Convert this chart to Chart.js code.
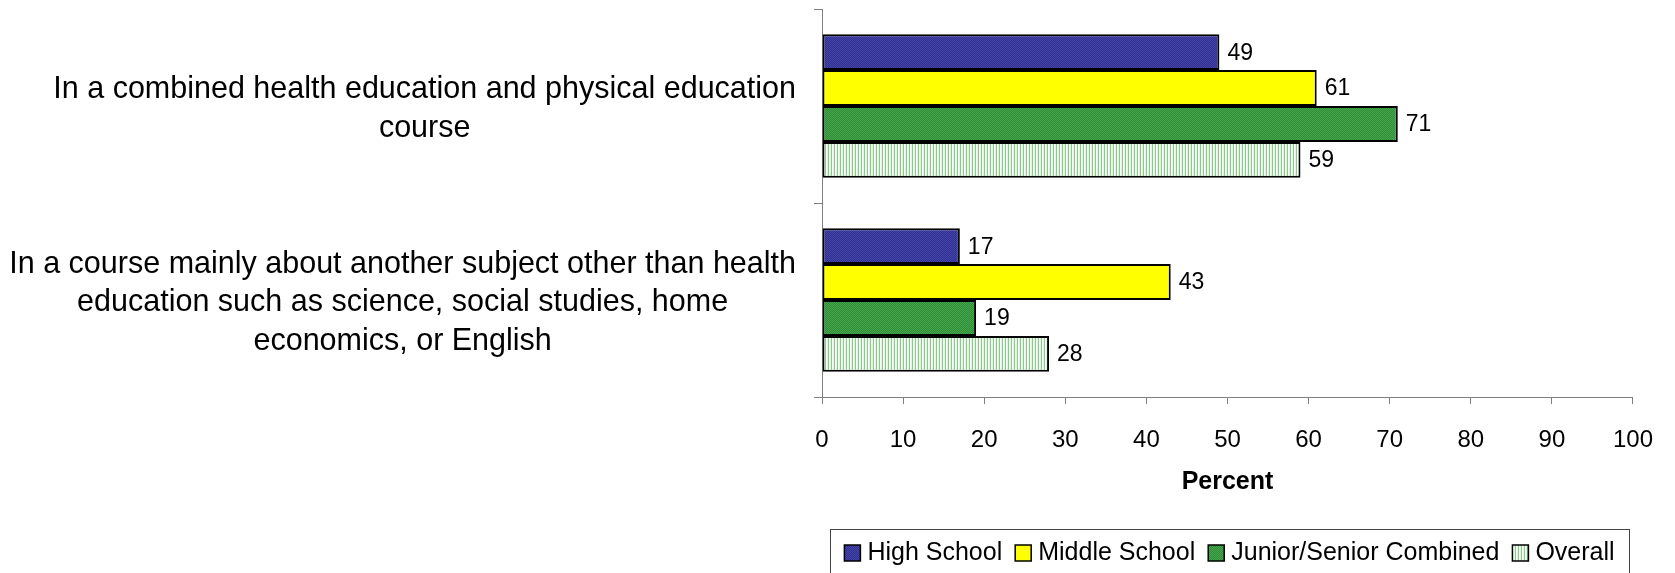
<!DOCTYPE html>
<html>
<head>
<meta charset="utf-8">
<script src="https://cdn.jsdelivr.net/npm/chart.js@4/dist/chart.umd.min.js"></script>
<style>
  html, body { margin: 0; padding: 0; background: #fff; }
  canvas { display: block; }
</style>
</head>
<body>
<canvas id="chart" width="1675" height="573"></canvas>
<script>
const categories = [
    ['In a combined health education and physical education', 'course'],
    ['In a course mainly about another subject other than health', 'education such as science, social studies, home', 'economics, or English']
];
const seriesNames = ['High School', 'Middle School', 'Junior/Senior Combined', 'Overall'];
const highSchool = [49, 17];
const middleSchool = [61, 43];
const juniorSenior = [71, 19];
const overall = [59, 28];
const xMin = 0, xMax = 100, xStep = 10;
const xTitle = 'Percent';

const FONT = "'Liberation Sans', Arial, sans-serif";
const ctx = document.getElementById('chart').getContext('2d');

function makePattern(w, h, cells) {
    const c = document.createElement('canvas');
    c.width = w; c.height = h;
    const g = c.getContext('2d');
    cells.forEach((row, y) => row.forEach((col, x) => {
        g.fillStyle = col;
        g.fillRect(x, y, 1, 1);
    }));
    return ctx.createPattern(c, 'repeat');
}

// textured fills like the old office chart
const fills = [
    makePattern(2, 2, [['#4444aa', '#30308f'], ['#30308f', '#4444aa']]),
    '#ffff00',
    makePattern(2, 2, [['#44a84a', '#308c38'], ['#308c38', '#44a84a']]),
    makePattern(3, 1, [['#86cc86', '#ffffff', '#e4f4e4']])
];
const seriesData = [highSchool, middleSchool, juniorSenior, overall];

// value labels to the right of each bar
const valueLabels = {
    id: 'valueLabels',
    afterDatasetsDraw(chart) {
        const c = chart.ctx;
        c.save();
        c.font = '23px ' + FONT;
        c.fillStyle = '#000';
        c.textBaseline = 'middle';
        c.textAlign = 'left';
        chart.data.datasets.forEach((ds, i) => {
            chart.getDatasetMeta(i).data.forEach((bar, j) => {
                c.fillText(ds.data[j], bar.x + 8, bar.y + 1);
            });
        });
        c.restore();
    }
};

// category labels: each block centred on its own widest line, right edges aligned
const categoryLabels = {
    id: 'categoryLabels',
    afterDraw(chart) {
        const c = chart.ctx;
        const y = chart.scales.y;
        const lineH = 38.5;
        const rightEdge = 796;
        c.save();
        c.font = '30.5px ' + FONT;
        c.fillStyle = '#000';
        c.textAlign = 'center';
        c.textBaseline = 'middle';
        chart.data.labels.forEach((lines, i) => {
            const w = Math.max(...lines.map(l => c.measureText(l).width));
            const cx = rightEdge - w / 2;
            const cy = y.getPixelForTick(i) + 3 - (lines.length - 1) * lineH / 2;
            lines.forEach((l, k) => c.fillText(l, cx, cy + k * lineH));
        });
        c.restore();
    }
};

// boxed legend under the axis title
const boxLegend = {
    id: 'boxLegend',
    afterDraw(chart) {
        const c = chart.ctx;
        const left = 830, top = 529, width = 799, height = 44;
        c.save();
        c.strokeStyle = '#444';
        c.lineWidth = 1;
        c.strokeRect(left + 0.5, top + 0.5, width, height);
        c.font = '25px ' + FONT;
        const box = 16, gapText = 7, gapItem = 13;
        const widths = seriesNames.map(n => c.measureText(n).width);
        const total = widths.reduce((a, b) => a + b, 0) + seriesNames.length * (box + gapText) + (seriesNames.length - 1) * gapItem;
        let x = left + (width - total) / 2;
        const cy = 553;
        c.textBaseline = 'middle';
        seriesNames.forEach((name, i) => {
            c.fillStyle = fills[i];
            c.fillRect(x, cy - box / 2, box, box);
            c.strokeStyle = '#000';
            c.lineWidth = 1.5;
            c.strokeRect(x, cy - box / 2, box, box);
            c.fillStyle = '#000';
            c.fillText(name, x + box + gapText, cy);
            x += box + gapText + widths[i] + gapItem;
        });
        c.restore();
    }
};

new Chart(ctx, {
    type: 'bar',
    data: {
        labels: categories,
        datasets: seriesNames.map((name, i) => ({
            label: name,
            data: seriesData[i],
            backgroundColor: fills[i],
            borderColor: '#000',
            borderWidth: 2,
            borderSkipped: false,
            barPercentage: 1,
            categoryPercentage: 0.74
        }))
    },
    options: {
        indexAxis: 'y',
        responsive: false,
        animation: false,
        layout: { padding: { top: 9, right: 34, left: 0, bottom: 0 } },
        plugins: {
            legend: { display: false },
            tooltip: { enabled: false }
        },
        scales: {
            x: {
                min: xMin, max: xMax,
                afterFit: s => { s.height = 176; },
                ticks: { stepSize: xStep, color: '#000', padding: 22, font: { family: FONT, size: 24 } },
                grid: { drawOnChartArea: false, tickLength: 7, color: '#808080' },
                border: { color: '#808080', width: 1 },
                title: {
                    display: true, text: xTitle, color: '#000',
                    font: { family: FONT, size: 25, weight: 'bold' },
                    padding: { top: 0, bottom: 76 }
                }
            },
            y: {
                afterFit: s => { s.width = 822; s.paddingTop = 0; s.paddingBottom = 0; },
                ticks: { display: false },
                grid: { drawOnChartArea: false, tickLength: 8, color: '#808080', offset: true },
                border: { color: '#808080', width: 1 }
            }
        }
    },
    plugins: [valueLabels, categoryLabels, boxLegend]
});
</script>
</body>
</html>
